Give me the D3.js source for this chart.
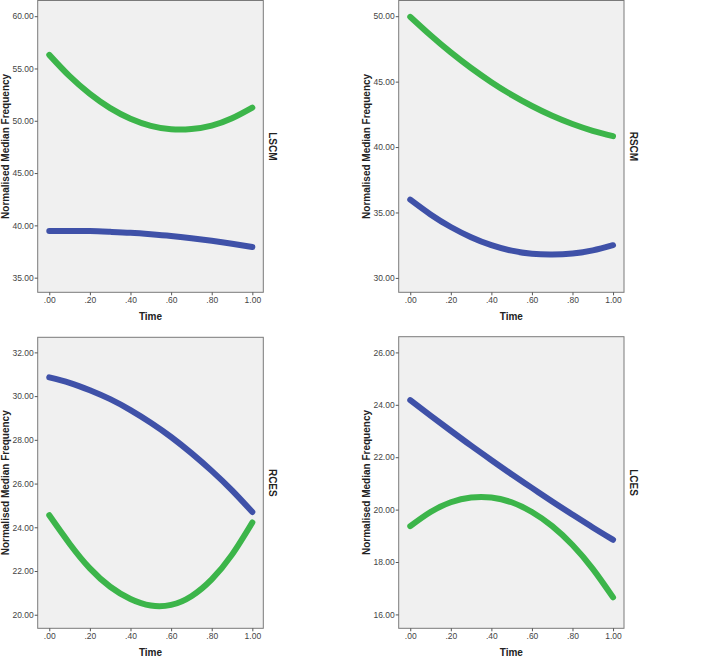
<!DOCTYPE html>
<html>
<head>
<meta charset="utf-8">
<script src="https://cdn.jsdelivr.net/npm/d3@7/dist/d3.min.js"></script>
<style>
  html, body { margin: 0; padding: 0; background: #fff; }
  svg { display: block; }
  text { font-family: "Liberation Sans", Arial, sans-serif; }
</style>
</head>
<body>
<svg id="chart" width="703" height="657"></svg>
<script>
// ---- Data ----
const times = [0, 0.1, 0.2, 0.3, 0.4, 0.5, 0.6, 0.7, 0.8, 0.9, 1.0];
const xTicks = [0, 0.2, 0.4, 0.6, 0.8, 1.0];
const xTickLabels = [".00", ".20", ".40", ".60", ".80", "1.00"];

const panelNames = ["LSCM", "RSCM", "RCES", "LCES"];

const lscmGreen = [56.30, 54.26, 52.57, 51.21, 50.20, 49.52, 49.19, 49.21, 49.54, 50.24, 51.26];
const lscmBlue  = [39.46, 39.47, 39.45, 39.38, 39.29, 39.15, 38.98, 38.77, 38.53, 38.25, 37.93];
const rscmGreen = [49.95, 48.54, 47.23, 46.04, 44.96, 43.99, 43.14, 42.39, 41.76, 41.24, 40.83];
const rscmBlue  = [35.98, 34.85, 33.89, 33.11, 32.50, 32.08, 31.84, 31.78, 31.86, 32.10, 32.50];
const rcesGreen = [24.55, 23.25, 22.12, 21.28, 20.72, 20.42, 20.45, 20.85, 21.62, 22.75, 24.22];
const rcesBlue  = [30.86, 30.61, 30.27, 29.86, 29.36, 28.78, 28.13, 27.39, 26.58, 25.69, 24.70];
const lcesGreen = [19.37, 19.91, 20.28, 20.46, 20.46, 20.28, 19.91, 19.37, 18.65, 17.74, 16.65];
const lcesBlue  = [24.18, 23.59, 23.01, 22.44, 21.89, 21.35, 20.83, 20.31, 19.81, 19.32, 18.85];

const lscmYTicks = [35, 40, 45, 50, 55, 60];
const rscmYTicks = [30, 35, 40, 45, 50];
const rcesYTicks = [20, 22, 24, 26, 28, 30, 32];
const lcesYTicks = [16, 18, 20, 22, 24, 26];

const lscmYDomain = [33.6, 61.5];
const rscmYDomain = [28.9, 51.2];
const rcesYDomain = [19.38, 32.69];
const lcesYDomain = [15.47, 26.6];

const xDomain = [-0.057, 1.054];

// ---- Layout ----
const GREEN = "#3cb54a";
const BLUE = "#3f51a8";
const panels = [
  { name: panelNames[0], green: lscmGreen, blue: lscmBlue, yTicks: lscmYTicks, yDomain: lscmYDomain, x0: 37.7, x1: 263.3, y0: 0.5, y1: 292.3 },
  { name: panelNames[1], green: rscmGreen, blue: rscmBlue, yTicks: rscmYTicks, yDomain: rscmYDomain, x0: 398.7, x1: 624, y0: 0.5, y1: 292.3 },
  { name: panelNames[2], green: rcesGreen, blue: rcesBlue, yTicks: rcesYTicks, yDomain: rcesYDomain, x0: 37.7, x1: 263.3, y0: 337.3, y1: 628.3 },
  { name: panelNames[3], green: lcesGreen, blue: lcesBlue, yTicks: lcesYTicks, yDomain: lcesYDomain, x0: 398.7, x1: 624, y0: 336.7, y1: 628.3 }
];

const svg = d3.select("#chart");

panels.forEach(p => {
  const g = svg.append("g");
  const x = d3.scaleLinear().domain(xDomain).range([p.x0, p.x1]);
  const y = d3.scaleLinear().domain(p.yDomain).range([p.y1, p.y0]);

  // plot background + frame
  g.append("rect")
    .attr("x", p.x0).attr("y", p.y0)
    .attr("width", p.x1 - p.x0).attr("height", p.y1 - p.y0)
    .attr("fill", "#f0f0f0")
    .attr("stroke", "#7a7a7a").attr("stroke-width", 1);

  // y axis
  const yAxis = d3.axisLeft(y).tickValues(p.yTicks).tickSize(3).tickPadding(1)
    .tickFormat(d3.format(".2f"));
  const ya = g.append("g").attr("transform", `translate(${p.x0},0)`).call(yAxis);
  ya.select(".domain").remove();
  ya.selectAll(".tick line").attr("stroke", "#555");
  ya.selectAll(".tick text").attr("fill", "#444").style("font-size", "8.5px")
    .style("font-family", '"Liberation Sans", Arial, sans-serif');

  // x axis
  const xAxis = d3.axisBottom(x).tickValues(xTicks).tickSize(3).tickPadding(2)
    .tickFormat((d, i) => xTickLabels[i]);
  const xa = g.append("g").attr("transform", `translate(0,${p.y1})`).call(xAxis);
  xa.select(".domain").remove();
  xa.selectAll(".tick line").attr("stroke", "#555");
  xa.selectAll(".tick text").attr("fill", "#444").style("font-size", "8.5px")
    .style("font-family", '"Liberation Sans", Arial, sans-serif');

  // lines
  const line = d3.line()
    .x((d, i) => x(times[i]))
    .y(d => y(d))
    .curve(d3.curveNatural);

  [[p.green, GREEN], [p.blue, BLUE]].forEach(([vals, col]) => {
    g.append("path")
      .datum(vals)
      .attr("d", line)
      .attr("fill", "none")
      .attr("stroke", col)
      .attr("stroke-width", 6)
      .attr("stroke-linecap", "round")
      .attr("stroke-linejoin", "round");
  });

  // axis titles
  g.append("text")
    .attr("x", (p.x0 + p.x1) / 2)
    .attr("y", p.y1 + 27.5)
    .attr("text-anchor", "middle")
    .style("font-size", "10px").style("font-weight", "bold").attr("fill", "#222")
    .text("Time");

  g.append("text")
    .attr("transform", `translate(${p.x0 - 32.5},${(p.y0 + p.y1) / 2}) rotate(-90)`)
    .attr("text-anchor", "middle")
    .attr("dominant-baseline", "central")
    .style("font-size", "10px").style("font-weight", "bold").attr("fill", "#222")
    .text("Normalised Median Frequency");

  g.append("text")
    .attr("transform", `translate(${p.x1 + 9.5},${(p.y0 + p.y1) / 2}) rotate(90)`)
    .attr("text-anchor", "middle")
    .attr("dominant-baseline", "central")
    .style("font-size", "10px").style("font-weight", "bold").attr("fill", "#222")
    .text(p.name);
});
</script>
</body>
</html>
